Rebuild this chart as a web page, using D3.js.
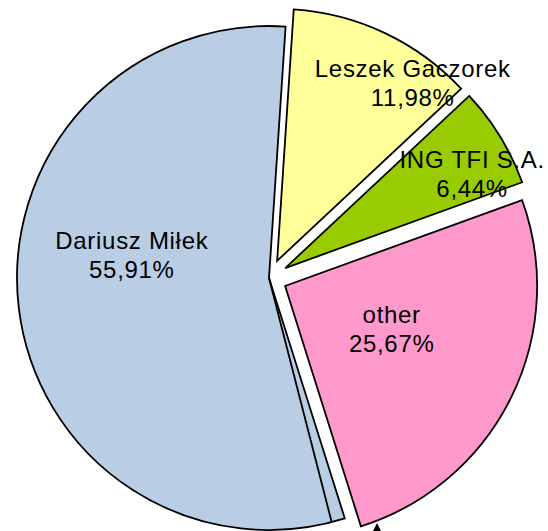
<!DOCTYPE html>
<html>
<head>
<meta charset="utf-8">
<script src="https://cdn.jsdelivr.net/npm/d3@7"></script>
<style>
  body { margin: 0; background: #fff; }
  svg { display: block; }
  text { font-family: "Liberation Sans", Arial, sans-serif; font-size: 24px; letter-spacing: 0.7px; fill: #000; }
</style>
</head>
<body>
<svg id="chart" width="548" height="531"></svg>
<script>
// data
var owners = ["Dariusz Miłek", "Leszek Gaczorek", "ING TFI S.A.", "other"];
var shares = [55.91, 11.98, 6.44, 25.67];
var shareLabels = ["55,91%", "11,98%", "6,44%", "25,67%"];

var colors = ["#B9CDE5", "#FFFF99", "#99CC00", "#FF99CC"];
var explode = [0, 19, 19, 18];
// label placement: [angle shift from slice middle (deg), distance from centre]
var labelPlace = [[16.2, 139], [11.1, 242], [4.5, 228], [-3.6, 133]];

var cx = 269, cy = 278, radius = 252;
var rad = function(d) { return d * Math.PI / 180; };
var start = rad(162.5);

var svg = d3.select("#chart");
var g = svg.append("g").attr("transform", "translate(" + cx + "," + cy + ")");

var pie = d3.pie().sort(null).value(function(d) { return d; })
    .startAngle(start).endAngle(start + 2 * Math.PI);
var arc = d3.arc().innerRadius(0).outerRadius(radius);
var slices = pie(shares);

function shift(d, i) {
  var mid = (d.startAngle + d.endAngle) / 2;
  return "translate(" + (explode[i] * Math.sin(mid)) + "," + (-explode[i] * Math.cos(mid)) + ")";
}

// fills first
g.selectAll("path.fill").data(slices).enter().append("path")
    .attr("class", "fill")
    .attr("d", arc)
    .attr("transform", shift)
    .attr("fill", function(d, i) { return colors[i]; });

// labels
var lab = g.selectAll("text.lab").data(slices).enter().append("text")
    .attr("class", "lab")
    .attr("text-anchor", "middle")
    .attr("transform", function(d, i) {
      var a = (d.startAngle + d.endAngle) / 2 + rad(labelPlace[i][0]);
      var r = labelPlace[i][1];
      return "translate(" + (r * Math.sin(a)) + "," + (-r * Math.cos(a)) + ")";
    });
lab.append("tspan").attr("x", 0).attr("y", -6).text(function(d, i) { return owners[i]; });
lab.append("tspan").attr("x", 0).attr("y", 23).text(function(d, i) { return shareLabels[i]; });

// outlines on top
g.selectAll("path.edge").data(slices).enter().append("path")
    .attr("class", "edge")
    .attr("d", arc)
    .attr("transform", shift)
    .attr("fill", "none")
    .attr("stroke", "#000")
    .attr("stroke-width", 1.8)
    .attr("stroke-linejoin", "miter");

// second edge line just inside the big slice
var a0 = slices[0].startAngle + rad(3.1);
g.append("line")
    .attr("x1", 0).attr("y1", 0)
    .attr("x2", radius * Math.sin(a0)).attr("y2", -radius * Math.cos(a0))
    .attr("stroke", "#000").attr("stroke-width", 1.8);

// arrow head poking in at the bottom edge
svg.append("path")
    .attr("d", "M377,523 L371.5,534 L382.5,534 Z")
    .attr("fill", "#000");
</script>
</body>
</html>
